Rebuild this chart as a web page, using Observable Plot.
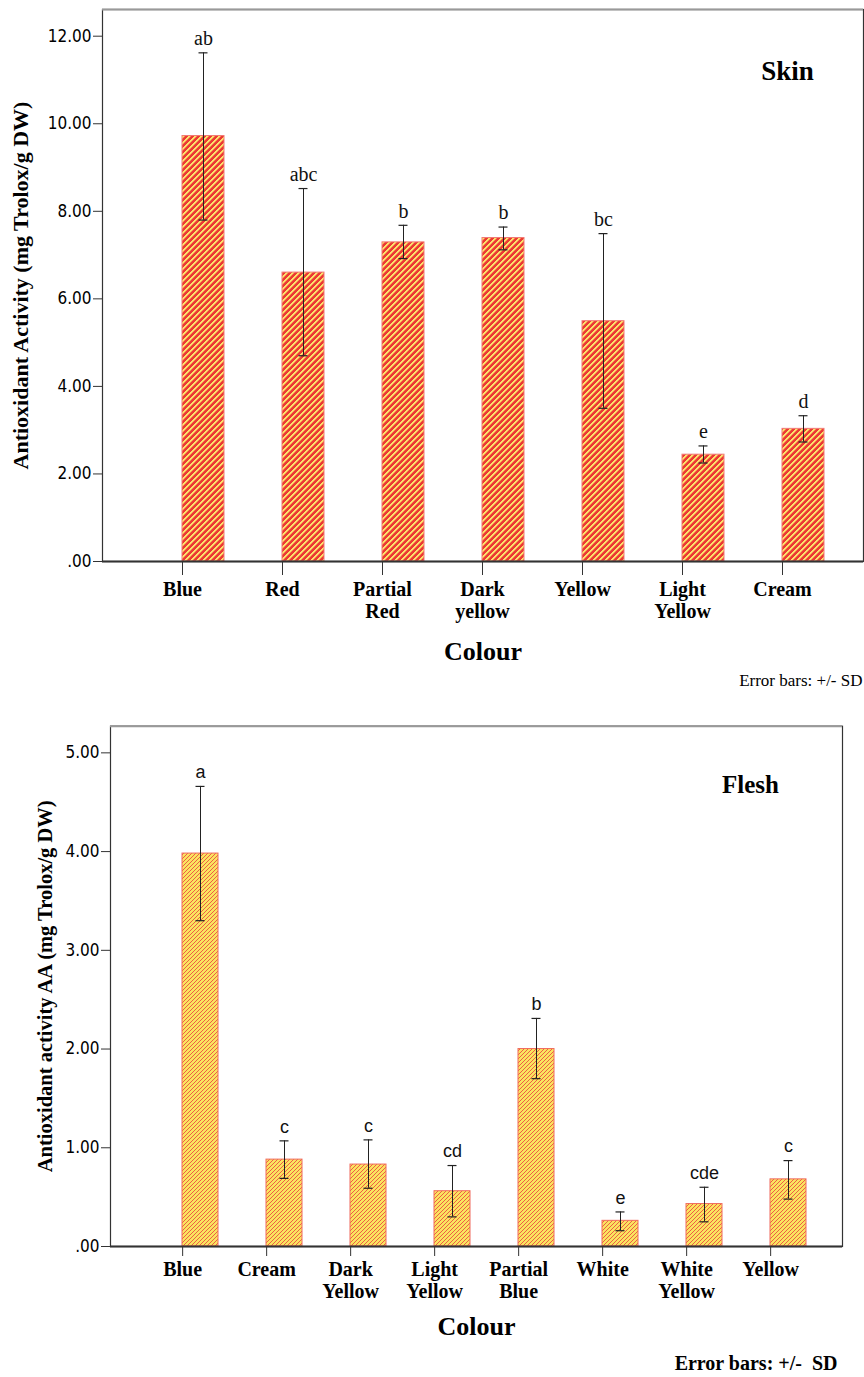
<!DOCTYPE html>
<html>
<head>
<meta charset="utf-8">
<script src="https://cdn.jsdelivr.net/npm/d3@7"></script>
<script src="https://cdn.jsdelivr.net/npm/@observablehq/plot@0.6"></script>
<style>
  html, body { margin: 0; padding: 0; background: #fff; }
  #chart svg { display: block; }
</style>
</head>
<body>
<div id="chart"></div>
<script>
// ---------- Skin data ----------
const skinCats = ["Blue", "Red", "Partial Red", "Dark yellow", "Yellow", "Light Yellow", "Cream"];
const skinTickLabels = ["Blue", "Red", "Partial\nRed", "Dark\nyellow", "Yellow", "Light\nYellow", "Cream"];
const skinMeans = [9.72, 6.60, 7.29, 7.39, 5.49, 2.44, 3.03];
const skinLow = [7.80, 4.70, 6.92, 7.12, 3.50, 2.25, 2.73];
const skinHigh = [11.62, 8.52, 7.68, 7.64, 7.49, 2.64, 3.33];
const skinLetters = ["ab", "abc", "b", "b", "bc", "e", "d"];
const skinYTicks = [0, 2, 4, 6, 8, 10, 12];

// ---------- Flesh data ----------
const fleshCats = ["Blue", "Cream", "Dark Yellow", "Light Yellow", "Partial Blue", "White", "White Yellow", "Yellow"];
const fleshTickLabels = ["Blue", "Cream", "Dark\nYellow", "Light\nYellow", "Partial\nBlue", "White", "White\nYellow", "Yellow"];
const fleshMeans = [3.98, 0.88, 0.83, 0.56, 2.00, 0.26, 0.43, 0.68];
const fleshLow = [3.30, 0.69, 0.59, 0.30, 1.70, 0.16, 0.25, 0.48];
const fleshHigh = [4.66, 1.07, 1.08, 0.82, 2.31, 0.35, 0.60, 0.87];
const fleshLetters = ["a", "c", "c", "cd", "b", "e", "cde", "c"];
const fleshYTicks = [0, 1, 2, 3, 4, 5];

const SERIF = "'Liberation Serif', 'Times New Roman', serif";
const NARROW = "'Liberation Sans Narrow', 'DejaVu Sans Condensed', 'Liberation Sans', sans-serif";
const SANS = "'Liberation Sans', Arial, sans-serif";

function rows(cats, means, low, high, letters, labels) {
  return cats.map((c, i) => ({cat: c, value: means[i], lo: low[i], hi: high[i], letter: letters[i], label: labels[i]}));
}

function yFmt(d) { return d === 0 ? ".00" : d.toFixed(2); }

// pixel-aligned diagonal ("/") hatch: colours listed per pixel step of the period
function hatchPattern(id, steps) {
  const P = steps.length;
  let s = `<pattern id="${id}" patternUnits="userSpaceOnUse" x="0" y="0" width="${P}" height="${P}">`;
  for (let y = 0; y < P; y++) {
    for (let x = 0; x < P; x++) {
      s += `<rect x="${x}" y="${y}" width="1" height="1" fill="${steps[(x + y) % P]}" shape-rendering="crispEdges"></rect>`;
    }
  }
  return s + `</pattern>`;
}

function makeChart(cfg) {
  const data = rows(cfg.cats, cfg.means, cfg.low, cfg.high, cfg.letters, cfg.labels);
  const labelOf = new Map(data.map(d => [d.cat, d.label]));
  const svg = Plot.plot({
    width: 864,
    height: cfg.height,
    marginTop: cfg.marginTop,
    marginBottom: cfg.marginBottom,
    marginLeft: cfg.marginLeft,
    marginRight: cfg.marginRight,
    style: {fontFamily: SERIF, fontSize: "16px", color: "#000", background: "#fff"},
    x: {type: "band", domain: cfg.cats, range: cfg.xRange, paddingInner: cfg.paddingInner, paddingOuter: 0, align: 0},
    y: {domain: cfg.yDomain},
    marks: [
      Plot.barY(data, {x: "cat", y: "value", fill: `url(#${cfg.patternId})`, stroke: cfg.barStroke, strokeWidth: 1}),
      Plot.ruleX(data, {x: "cat", y1: "lo", y2: "hi", stroke: "#222", strokeWidth: 1}),
      Plot.tickY(data, {x: "cat", y: "hi", stroke: "#222", strokeWidth: 1.2, insetLeft: cfg.capInset, insetRight: cfg.capInset}),
      Plot.tickY(data, {x: "cat", y: "lo", stroke: "#222", strokeWidth: 1.2, insetLeft: cfg.capInset, insetRight: cfg.capInset}),
      Plot.text(data, {x: "cat", y: "hi", text: "letter", dy: -14, fontFamily: cfg.letterFont, fontSize: cfg.letterSize, fill: "#111"}),
      Plot.frame({stroke: "#333", strokeWidth: 1.2}),
      Plot.ruleY([cfg.yDomain[1]], {stroke: "#999", strokeWidth: 2}),
      Plot.ruleY([0], {stroke: "#333", strokeWidth: 2}),
      Plot.axisY({ticks: cfg.yTicks, tickFormat: yFmt, tickSize: 9, tickPadding: 2, label: null, fontFamily: NARROW, fontSize: 17, fontWeight: "normal", stroke: "#333"}),
      Plot.axisX({tickFormat: d => labelOf.get(d), tickSize: cfg.xTickSize, tickPadding: cfg.xTickPadding, label: null, dx: cfg.axisDx, fontFamily: SERIF, fontSize: 20, fontWeight: "bold", lineHeight: 1.1, stroke: "#333"}),
      Plot.text([cfg.xTitle], {frameAnchor: "bottom", dy: cfg.xTitleDy, fontFamily: SERIF, fontSize: 26, fontWeight: "bold", fill: "#000"}),
      Plot.text([cfg.yTitle], {frameAnchor: "left", textAnchor: "middle", rotate: -90, dx: cfg.yTitleDx, fontFamily: SERIF, fontSize: cfg.yTitleSize, fontWeight: "bold", fill: "#000"}),
      Plot.text([cfg.panel], {frameAnchor: "top-right", textAnchor: "middle", dx: cfg.panelDx, dy: cfg.panelDy, fontFamily: SERIF, fontSize: cfg.panelSize, fontWeight: "bold", fill: "#000"}),
      Plot.text([cfg.note], {frameAnchor: "bottom-right", textAnchor: "end", dx: cfg.noteDx, dy: cfg.noteDy, fontFamily: SERIF, fontSize: cfg.noteSize, fontWeight: cfg.noteWeight, fill: "#000"})
    ]
  });
  d3.select(svg).insert("defs", ":first-child").html(cfg.patternDef);
  return svg;
}

const R = "#ec3a34", Y = "#fbe46c";
const skinPattern = hatchPattern("skinHatch", [Y, Y, "#f48e50", R, R, R]);
const fleshPattern = hatchPattern("fleshHatch", ["#ee5e44", "#fae35f", "#fae35f", "#fae35f"]);

const chart = document.getElementById("chart");

chart.appendChild(makeChart({
  cats: skinCats, labels: skinTickLabels, means: skinMeans, low: skinLow, high: skinHigh, letters: skinLetters,
  yTicks: skinYTicks, yDomain: [0, 12.61],
  height: 700, marginTop: 9, marginBottom: 139, marginLeft: 102, marginRight: 1,
  xRange: [182, 826.4], paddingInner: 0.5817, axisDx: -21, capInset: 16.5,
  xTickSize: 14, xTickPadding: 5,
  patternId: "skinHatch", patternDef: skinPattern, barStroke: "#f27a74",
  letterFont: SERIF, letterSize: 20,
  xTitle: "Colour", xTitleDy: 98,
  yTitle: "Antioxidant Activity (mg Trolox/g DW)", yTitleDx: -82, yTitleSize: 22,
  panel: "Skin", panelDx: -76, panelDy: 51, panelSize: 27,
  note: "Error bars: +/- SD", noteDx: -1, noteDy: 124, noteWeight: "normal", noteSize: 17
}));

chart.appendChild(makeChart({
  cats: fleshCats, labels: fleshTickLabels, means: fleshMeans, low: fleshLow, high: fleshHigh, letters: fleshLetters,
  yTicks: fleshYTicks, yDomain: [0, 5.27],
  height: 677, marginTop: 25.7, marginBottom: 131, marginLeft: 110, marginRight: 22,
  xRange: [182, 805.7], paddingInner: 0.575, axisDx: -17.85, capInset: 13.5,
  xTickSize: 10, xTickPadding: 4,
  patternId: "fleshHatch", patternDef: fleshPattern, barStroke: "#f06a5e",
  letterFont: SANS, letterSize: 18,
  xTitle: "Colour", xTitleDy: 88,
  yTitle: "Antioxidant activity AA (mg Trolox/g DW)", yTitleDx: -65, yTitleSize: 20.5,
  panel: "Flesh", panelDx: -92, panelDy: 49, panelSize: 25,
  note: "Error bars: +/-  SD", noteDx: -5, noteDy: 123, noteWeight: "bold", noteSize: 20
}));
</script>
</body>
</html>
